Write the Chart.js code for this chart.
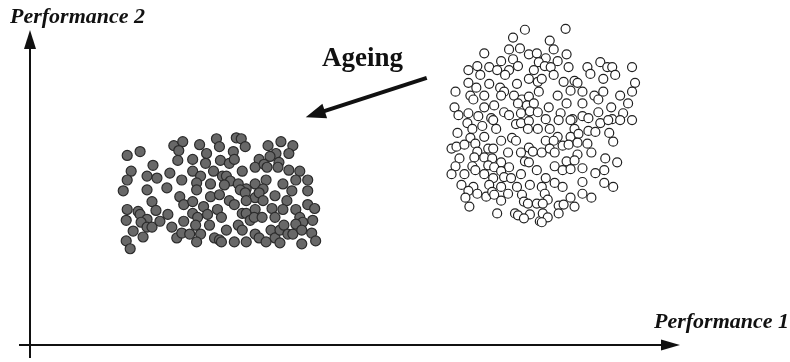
<!DOCTYPE html>
<html>
<head>
<meta charset="utf-8">
<script src="https://cdn.jsdelivr.net/npm/chart.js@4"></script>
<style>
  html, body { margin: 0; padding: 0; background: #fff; }
  #wrap { width: 790px; height: 362px; }
</style>
</head>
<body>
<div id="wrap"><canvas id="grafico" width="790" height="362"></canvas></div>
<script>
// values (Performance 1 = x, Performance 2 = y)
const agedX = [98,111,145,154,150,171,188,191,178,149,164,177,192,124,102,98,118,128,141,153,164,172,185,194,168,182,94,118,138,168,
  208,213,217,205,240,253,265,248,242,261,201,206,231,227,236,239,251,250,261,272,214,198,202,210,227,238,255,268,280,196,218,235,264,280,
  151,155,164,182,191,123,127,98,109,111,118,112,118,123,131,139,97,104,114,97,101,143,155,164,169,175,179,189,193,167,181,148,153,161,172,168,186,191,
  212,217,227,231,247,201,206,218,235,259,280,287,214,218,227,244,255,268,222,226,234,247,272,285,275,198,210,214,227,231,243,247,252,256,260,265,268,274,284,
  193,206,218,238,252,274,288];
const agedY = [193,197,203,207,198,204,210,202,195,188,189,185,188,183,177,168,172,170,175,168,177,172,177,172,165,164,157,158,160,158,
  211,210,202,197,203,207,203,195,192,195,185,189,189,181,184,181,186,181,178,177,177,172,167,164,164,168,164,168,168,163,159,159,157,157,
  151,143,146,151,153,146,137,138,136,133,128,125,120,120,126,133,127,116,110,106,98,120,126,134,130,141,133,138,130,122,122,109,114,113,113,105,109,107,
  158,155,150,155,152,147,143,147,147,147,143,139,134,134,138,139,138,138,127,130,130,130,130,127,125,117,122,117,113,109,117,109,117,122,113,113,123,117,114,
  105,105,105,105,104,103,106];

const newX = [499,487,483,494,503,511,458,487,475,463,451,442,471,483,492,479,454,508,503,442,450,463,491,512,474,478,429,444,447,458,475,488,496,503,492,501,508,468,458,428,442,432,478,483,495,504,452,465,
  540,524,528,541,520,513,532,519,525,543,562,575,582,587,607,565,590,516,528,538,549,552,578,610,513,532,545,557,569,578,595,607,523,541,557,573,586,603,512,535,573,598,520,557,563,547,587,
  441,446,456,467,490,495,503,512,502,470,431,444,458,475,486,490,425,430,438,449,462,467,451,482,495,503,507,433,448,458,466,475,499,503,429,446,462,468,483,425,438,449,458,475,495,511,467,478,485,
  435,447,463,475,491,504,442,451,460,466,468,482,496,439,475,498,502,511,443,471,489,492,504,498,514,
  533,545,575,583,595,607,524,549,563,570,584,588,532,545,553,520,528,537,543,552,562,516,524,529,566,552,580,592,541,549,529,537,545,557,579,570,520,529,537,557,579,588,516,519,557,566,545,522,517,533,538,549,517,533,522,516];
const newY = [321,313,301,302,296,297,297,291,289,283,284,280,280,280,284,275,275,280,271,267,262,266,266,268,262,258,258,254,250,254,254,254,250,253,246,244,246,244,242,242,236,234,237,234,236,238,233,231,
  322,310,301,296,292,288,289,284,283,283,283,288,283,283,283,276,275,271,275,268,269,267,271,267,258,254,259,258,254,258,254,258,242,246,246,250,242,246,237,236,237,236,230,233,231,230,230,
  226,220,223,229,225,226,228,220,220,220,216,211,212,208,211,208,200,202,204,205,200,200,197,196,196,201,197,190,191,191,190,186,187,186,182,182,183,181,181,174,174,178,174,177,174,178,170,171,170,
  163,161,163,161,161,163,157,154,151,156,153,154,153,150,147,146,144,144,141,134,134,132,133,129,126,
  229,229,226,229,229,229,220,220,218,217,216,207,212,212,215,208,208,203,204,206,205,196,200,196,196,194,190,186,187,188,182,178,179,180,178,175,170,165,161,166,165,161,161,154,154,150,150,148,144,142,143,141,134,134,130,125];

const xMax = 760;
const yMax = 345;
const arrowFrom = [400, 272];
const arrowTo = [278, 232];

const pts = (xs, ys) => xs.map((x, i) => ({ x: x, y: ys[i] }));

const decor = {
  id: "decor",
  beforeDatasetsDraw(chart) {
    const ctx = chart.ctx;
    const xs = chart.scales.x, ys = chart.scales.y;
    const ox = xs.getPixelForValue(0), oy = ys.getPixelForValue(0);
    ctx.save();
    ctx.strokeStyle = "#111";
    ctx.fillStyle = "#111";
    ctx.lineWidth = 2;
    // y axis
    ctx.beginPath();
    ctx.moveTo(ox, oy + 13);
    ctx.lineTo(ox, 46);
    ctx.stroke();
    ctx.beginPath();
    ctx.moveTo(ox, 30);
    ctx.lineTo(ox - 6, 49);
    ctx.lineTo(ox + 6, 49);
    ctx.closePath();
    ctx.fill();
    // x axis
    ctx.beginPath();
    ctx.moveTo(ox - 11, oy);
    ctx.lineTo(664, oy);
    ctx.stroke();
    ctx.beginPath();
    ctx.moveTo(680, oy);
    ctx.lineTo(661, oy - 5.5);
    ctx.lineTo(661, oy + 5.5);
    ctx.closePath();
    ctx.fill();
    // ageing arrow
    const x1 = xs.getPixelForValue(arrowFrom[0]), y1 = ys.getPixelForValue(arrowFrom[1]);
    const x2 = xs.getPixelForValue(arrowTo[0]), y2 = ys.getPixelForValue(arrowTo[1]);
    const ang = Math.atan2(y2 - y1, x2 - x1);
    const hl = 20, hw = 7.5;
    const bx = x2 - hl * Math.cos(ang), by = y2 - hl * Math.sin(ang);
    ctx.lineWidth = 4;
    ctx.beginPath();
    ctx.moveTo(x1, y1);
    ctx.lineTo(bx + 3 * Math.cos(ang), by + 3 * Math.sin(ang));
    ctx.stroke();
    ctx.beginPath();
    ctx.moveTo(x2, y2);
    ctx.lineTo(bx + hw * Math.sin(ang), by - hw * Math.cos(ang));
    ctx.lineTo(bx - hw * Math.sin(ang), by + hw * Math.cos(ang));
    ctx.closePath();
    ctx.fill();
    // texts
    ctx.textBaseline = "alphabetic";
    ctx.textAlign = "left";
    ctx.font = "italic bold 22px 'Liberation Serif', 'DejaVu Serif', serif";
    ctx.fillText("Performance 2", 10, 23);
    ctx.fillText("Performance 1", 654, 328);
    ctx.font = "bold 27px 'Liberation Serif', 'DejaVu Serif', serif";
    ctx.fillText("Ageing", 322, 66);
    ctx.restore();
  }
};

new Chart(document.getElementById("grafico"), {
  type: "scatter",
  data: {
    datasets: [
      {
        label: "Aged",
        data: pts(agedX, agedY),
        pointRadius: 5,
        pointBackgroundColor: "#686868",
        pointBorderColor: "#2b2b2b",
        pointBorderWidth: 1.2
      },
      {
        label: "New",
        data: pts(newX, newY),
        pointRadius: 4.5,
        pointBackgroundColor: "#ffffff",
        pointBorderColor: "#222222",
        pointBorderWidth: 1.2
      }
    ]
  },
  options: {
    responsive: false,
    animation: false,
    events: [],
    layout: { padding: { left: 30, right: 0, top: 0, bottom: 17 } },
    plugins: { legend: { display: false }, tooltip: { enabled: false } },
    scales: {
      x: { type: "linear", min: 0, max: xMax, display: false },
      y: { type: "linear", min: 0, max: yMax, display: false }
    }
  },
  plugins: [decor]
});
</script>
</body>
</html>
